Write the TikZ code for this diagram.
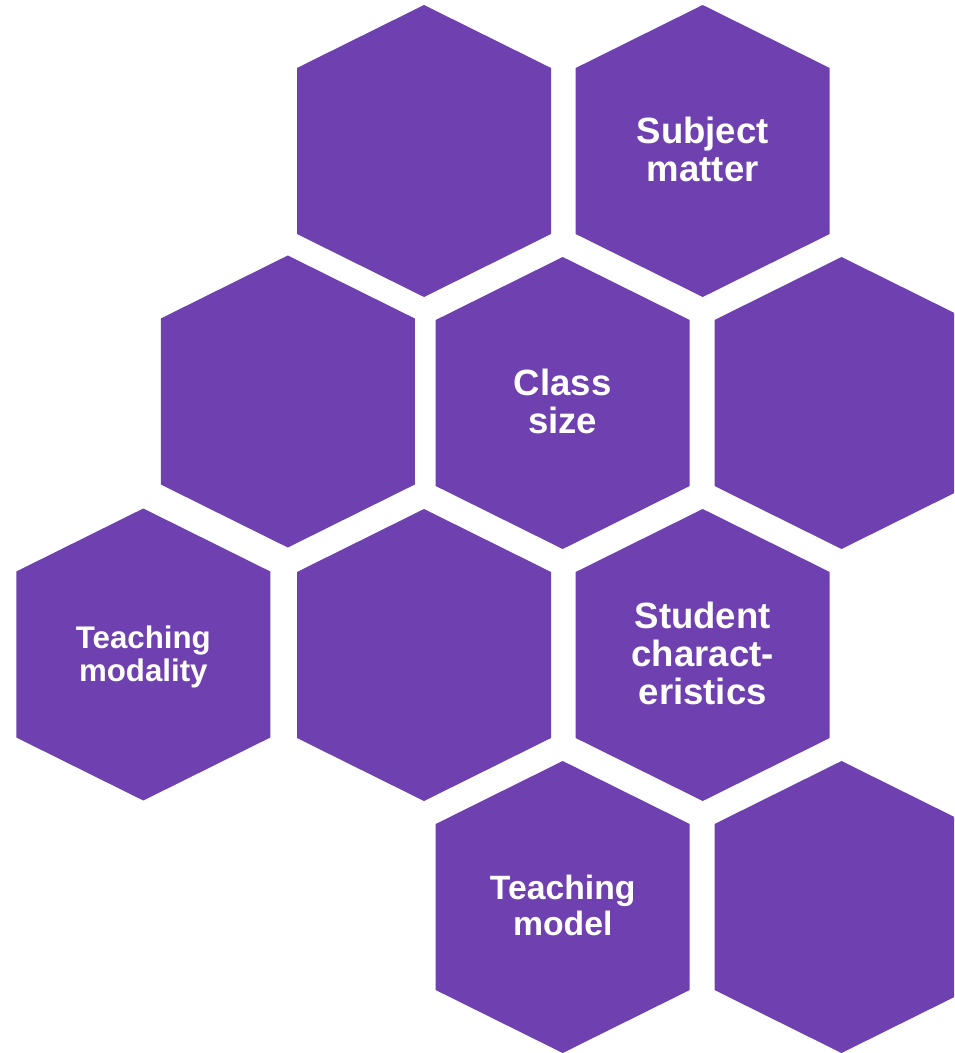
\documentclass[tikz,border=0pt]{standalone}
\usepackage{fontspec}
\setmainfont{Liberation Sans}
\usetikzlibrary{positioning}
\definecolor{hex-purple}{RGB}{111,64,176}
\tikzset{hexlabel/.style={text=white, align=center, yshift=1.1pt, font=\bfseries\fontsize{20.8}{21.6}\selectfont}}

\begin{document}
\begin{tikzpicture}[x=0.02cm,y=-0.02cm]
    \clip (0,0) rectangle (954,1053);

	\coordinate (H1) at (424,151);
	\coordinate (H2) at (702.7,151);
	\coordinate (H3) at (287.8,401.5);
	\coordinate (H4) at (562.7,403);
	\coordinate (H5) at (841.5,403);
	\coordinate (H6) at (143.3,654.5);
	\coordinate (H7) at (424,655);
	\coordinate (H8) at (702.7,655);
	\coordinate (H9) at (562.7,907);
	\coordinate (H10) at (841.5,907);

    \foreach \h in {H1,H2,H3,H4,H5,H6,H7,H8,H9,H10}
        \fill[hex-purple] (\h) +(0,-146) -- +(127,-83) -- +(127,83)
            -- +(0,146) -- +(-127,83) -- +(-127,-83) -- cycle;

    \node[hexlabel] (subject) at (H2) {Subject\\matter};
    \node[hexlabel] (classsize) at (H4) {Class\\size};
    \node[hexlabel, yshift=-2.2pt, font=\bfseries\fontsize{17.8}{18.8}\selectfont] (modality) at (H6) {Teaching\\modality};
    \node[hexlabel] (students) at (H8) {Student\\charact-\\eristics};
    \node[hexlabel, font=\bfseries\fontsize{19.2}{20.5}\selectfont] (model) at (H9) {Teaching\\model};

\end{tikzpicture}
\end{document}
